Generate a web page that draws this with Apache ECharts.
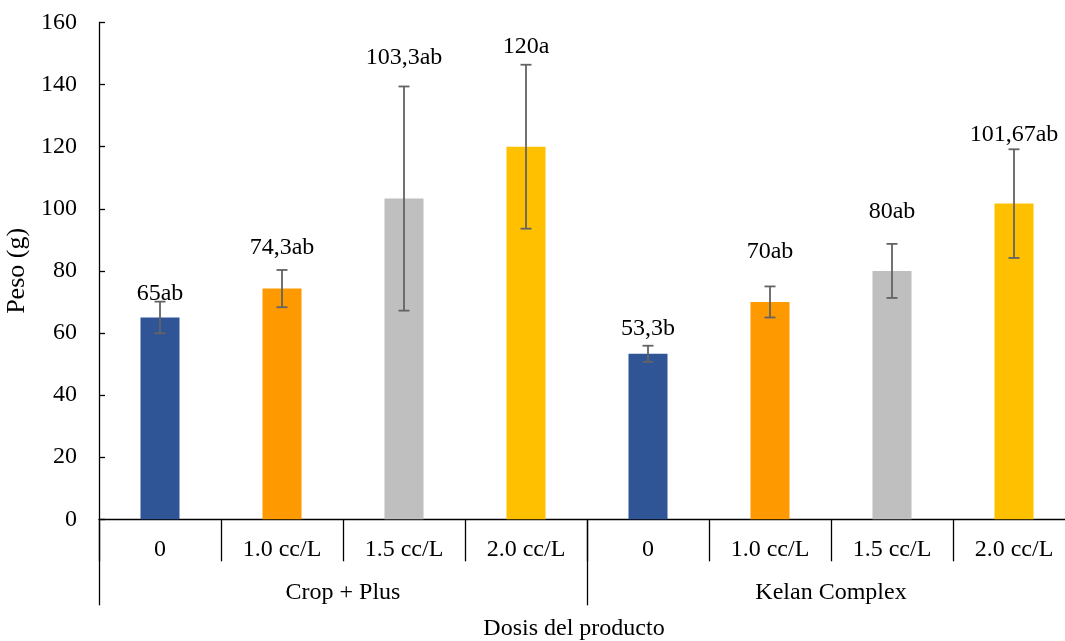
<!DOCTYPE html>
<html>
<head>
<meta charset="utf-8">
<script src="https://cdn.jsdelivr.net/npm/echarts@6/dist/echarts.min.js"></script>
<style>
  html, body { margin: 0; padding: 0; background: #ffffff; }
  #chart { width: 1065px; height: 641px; }
</style>
</head>
<body>
<div id="chart"></div>
<script>
// Doses for each product and the product groups
const doses = ['0', '1.0 cc/L', '1.5 cc/L', '2.0 cc/L', '0', '1.0 cc/L', '1.5 cc/L', '2.0 cc/L'];
const products = ['Crop + Plus', 'Kelan Complex'];

// Mean weight (g) and standard error per treatment
const pesoMedio = [65, 74.3, 103.3, 120, 53.3, 70, 80, 101.67];
const errorEst = [5.1, 6.0, 36.1, 26.4, 2.6, 5.0, 8.7, 17.5];

// Mean labels with significance letters
const etiquetas = ['65ab', '74,3ab', '103,3ab', '120a', '53,3b', '70ab', '80ab', '101,67ab'];

// Bar colours by dose
const colores = ['#2F5597', '#FF9900', '#BFBFBF', '#FFC000', '#2F5597', '#FF9900', '#BFBFBF', '#FFC000'];
// Gap (px) between each bar top and its label
const separacionEtiqueta = [12, 29, 129, 88, 13, 38, 47, 57];

const FONT = '"Liberation Serif", "Times New Roman", serif';

const barData = pesoMedio.map((v, i) => ({
  value: v,
  itemStyle: { color: colores[i] },
  label: { distance: separacionEtiqueta[i] }
}));

const errData = pesoMedio.map((v, i) => [i, v - errorEst[i], v + errorEst[i]]);

const chart = echarts.init(document.getElementById('chart'), null, { renderer: 'canvas' });

chart.setOption({
  backgroundColor: '#ffffff',
  animation: false,
  // the plot runs slightly past the right edge of the canvas
  grid: { left: 99, right: -10, top: 22.5, bottom: 121.7, containLabel: false, outerBoundsMode: 'none' },
  xAxis: [
    {
      type: 'category',
      data: doses,
      position: 'bottom',
      axisLine: { show: true, lineStyle: { color: '#000000', width: 1.3 } },
      axisTick: { show: true, length: 42, lineStyle: { color: '#000000', width: 1.3 } },
      axisLabel: { fontFamily: FONT, fontSize: 24, color: '#000000', margin: 18, interval: 0 },
      splitLine: { show: false }
    },
    {
      type: 'category',
      data: products,
      position: 'bottom',
      axisLine: { show: false },
      axisTick: { show: true, length: 86, lineStyle: { color: '#000000', width: 1.3 } },
      axisLabel: { fontFamily: FONT, fontSize: 24, color: '#000000', margin: 61, interval: 0 },
      splitLine: { show: false },
      name: 'Dosis del producto',
      nameLocation: 'middle',
      nameGap: 97,
      nameTextStyle: { fontFamily: FONT, fontSize: 24, color: '#000000', padding: [0, 26, 0, 0] }
    }
  ],
  yAxis: {
    type: 'value',
    min: 0,
    max: 160,
    interval: 20,
    name: 'Peso (g)',
    nameLocation: 'middle',
    nameGap: 60,
    nameTextStyle: { fontFamily: FONT, fontSize: 26, color: '#000000' },
    axisLine: { show: true, lineStyle: { color: '#000000', width: 1.3 } },
    axisTick: { show: true, inside: true, length: 6, lineStyle: { color: '#000000', width: 1.3 } },
    axisLabel: { fontFamily: FONT, fontSize: 24, color: '#000000', margin: 22 },
    splitLine: { show: false }
  },
  series: [
    {
      type: 'bar',
      xAxisIndex: 0,
      data: barData,
      barWidth: '32%',
      label: {
        show: true,
        position: 'top',
        fontFamily: FONT,
        fontSize: 24,
        lineHeight: 24,
        color: '#000000',
        formatter: p => etiquetas[p.dataIndex]
      },
      z: 2
    },
    {
      type: 'custom',
      xAxisIndex: 0,
      data: errData,
      z: 5,
      renderItem: function (params, api) {
        const x = api.value(0);
        const lo = api.coord([x, api.value(1)]);
        const hi = api.coord([x, api.value(2)]);
        const cap = 5.5;
        const style = { stroke: '#636363', lineWidth: 1.8 };
        return {
          type: 'group',
          children: [
            { type: 'line', shape: { x1: hi[0], y1: hi[1], x2: lo[0], y2: lo[1] }, style },
            { type: 'line', shape: { x1: hi[0] - cap, y1: hi[1], x2: hi[0] + cap, y2: hi[1] }, style },
            { type: 'line', shape: { x1: lo[0] - cap, y1: lo[1], x2: lo[0] + cap, y2: lo[1] }, style }
          ]
        };
      }
    }
  ]
});
</script>
</body>
</html>
